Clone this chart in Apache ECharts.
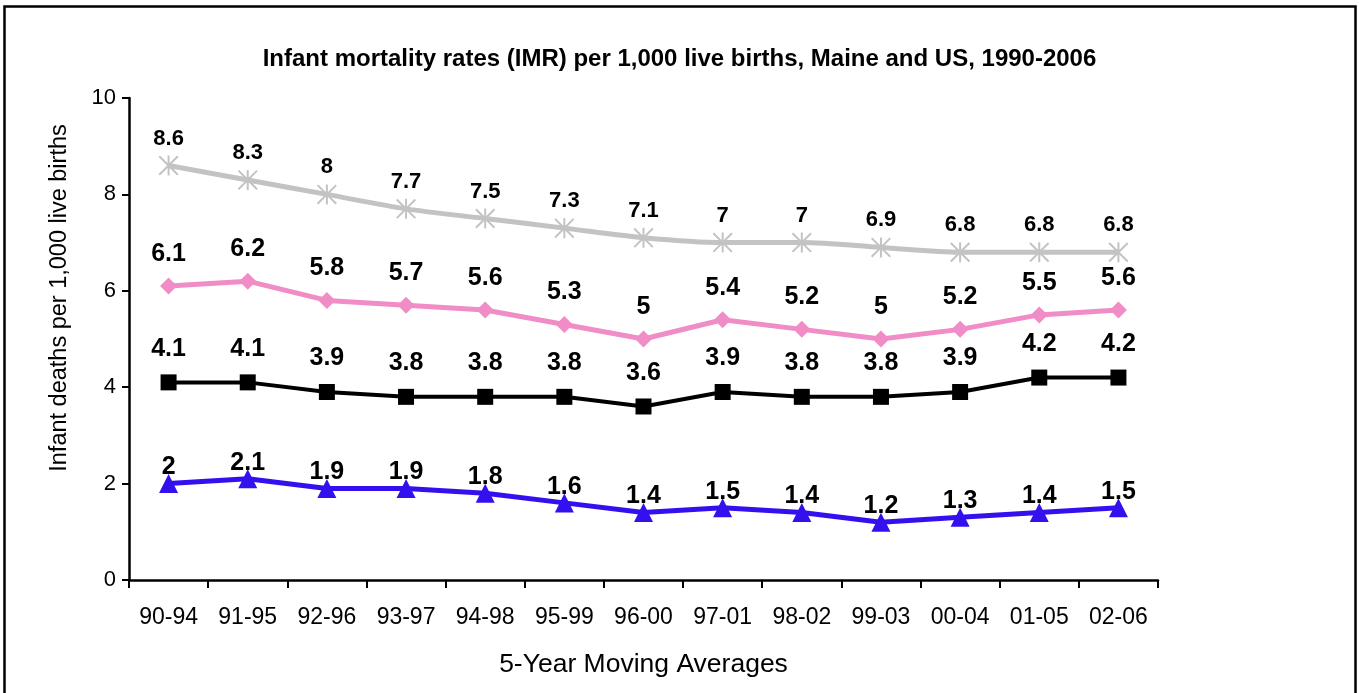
<!DOCTYPE html>
<html>
<head>
<meta charset="utf-8">
<script src="https://cdn.jsdelivr.net/npm/echarts@6/dist/echarts.min.js"></script>
<style>
  html, body { margin: 0; padding: 0; background: #fff; }
  #chart { width: 1359px; height: 693px; }
</style>
</head>
<body>
<div id="chart"></div>
<script>
// categories (5-year moving average windows)
const periods = ["90-94", "91-95", "92-96", "93-97", "94-98", "95-99", "96-00", "97-01", "98-02", "99-03", "00-04", "01-05", "02-06"];

// series values
const usImr = [8.6, 8.3, 8, 7.7, 7.5, 7.3, 7.1, 7, 7, 6.9, 6.8, 6.8, 6.8];
const maineImr = [6.1, 6.2, 5.8, 5.7, 5.6, 5.3, 5, 5.4, 5.2, 5, 5.2, 5.5, 5.6];
const maineNeonatal = [4.1, 4.1, 3.9, 3.8, 3.8, 3.8, 3.6, 3.9, 3.8, 3.8, 3.9, 4.2, 4.2];
const mainePostneonatal = [2, 2.1, 1.9, 1.9, 1.8, 1.6, 1.4, 1.5, 1.4, 1.2, 1.3, 1.4, 1.5];

const FONT = 'Arial, "Liberation Sans", sans-serif';

// asterisk marker (vertical bar + X), drawn as filled bars
const starPath = "path://M9,0 L11,0 L11,20 L9,20 Z M0,1.4 L1.4,0 L20,18.6 L18.6,20 Z M18.6,0 L20,1.4 L1.4,20 L0,18.6 Z";

const chart = echarts.init(document.getElementById("chart"));

// data labels above the points
const lbl = (size, dist, dy) => ({
  show: true,
  position: "top",
  distance: dist,
  offset: [0, dy || 0],
  color: "#000",
  fontFamily: FONT,
  fontWeight: "bold",
  fontSize: size,
});

chart.setOption({
  animation: false,
  title: {
    text: "Infant mortality rates (IMR) per 1,000 live births, Maine and US, 1990-2006",
    left: "center",
    top: 42,
    textStyle: { fontFamily: FONT, fontWeight: "bold", fontSize: 24, color: "#000" },
  },
  graphic: [
    {
      type: "rect",
      left: 2,
      top: 4,
      shape: { width: 1351, height: 720 },
      style: { fill: "none", stroke: "#000", lineWidth: 2.5 },
      silent: true,
    },
  ],
  grid: { left: 129, right: 201, top: 98, bottom: 113 },
  xAxis: {
    type: "category",
    data: periods,
    name: "5-Year Moving Averages",
    nameLocation: "middle",
    nameGap: 71,
    nameTextStyle: { fontFamily: FONT, fontSize: 26.5, color: "#000" },
    axisLine: { lineStyle: { color: "#000", width: 2.5 } },
    axisTick: { show: true, length: 8, lineStyle: { color: "#000", width: 2 } },
    axisLabel: { fontFamily: FONT, fontSize: 23, color: "#000", margin: 26, interval: 0 },
  },
  yAxis: {
    type: "value",
    min: 0,
    max: 10,
    interval: 2,
    name: "Infant deaths per 1,000 live births",
    nameLocation: "middle",
    nameGap: 57,
    nameTextStyle: { fontFamily: FONT, fontSize: 23.5, color: "#000", padding: [0, 0, 0, 82] },
    axisLine: { show: true, lineStyle: { color: "#000", width: 2.5 } },
    axisTick: { show: true, length: 7, lineStyle: { color: "#000", width: 2 } },
    splitLine: { show: false },
    axisLabel: { fontFamily: FONT, fontSize: 22, color: "#000", margin: 13 },
  },
  series: [
    {
      name: "US IMR",
      type: "line",
      data: usImr,
      smooth: 0.3,
      symbol: starPath,
      symbolSize: 20,
      lineStyle: { color: "#c3c3c3", width: 5 },
      itemStyle: { color: "#c3c3c3" },
      label: lbl(22, 6),
      z: 2,
    },
    {
      name: "Maine IMR",
      type: "line",
      data: maineImr,
      symbol: "diamond",
      symbolSize: 17,
      lineStyle: { color: "#f08cc6", width: 5 },
      itemStyle: { color: "#f08cc6" },
      label: lbl(25, 11),
      z: 3,
    },
    {
      name: "Maine neonatal",
      type: "line",
      data: maineNeonatal,
      symbol: "rect",
      symbolSize: 16,
      lineStyle: { color: "#000", width: 4 },
      itemStyle: { color: "#000" },
      label: lbl(25, 13),
      z: 4,
    },
    {
      name: "Maine postneonatal",
      type: "line",
      data: mainePostneonatal,
      symbol: "triangle",
      symbolSize: 19,
      lineStyle: { color: "#3311ee", width: 5 },
      itemStyle: { color: "#3311ee" },
      label: lbl(25, 2, 8),
      z: 5,
    },
  ],
});
</script>
</body>
</html>
